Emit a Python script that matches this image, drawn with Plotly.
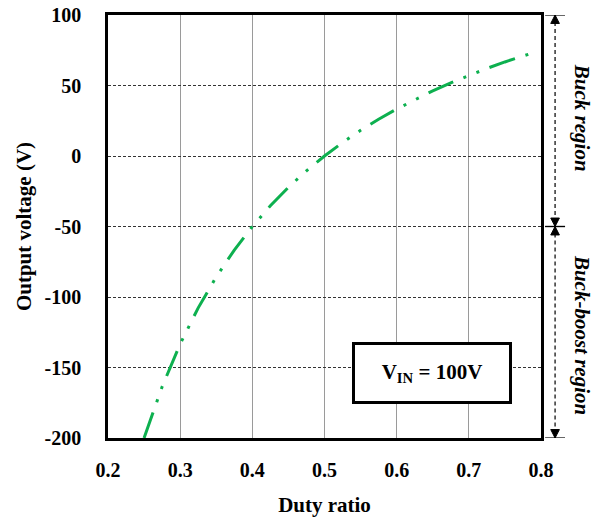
import plotly.graph_objects as go

duty = [0.25, 0.275, 0.3, 0.325, 0.35, 0.375, 0.4, 0.425, 0.45, 0.475, 0.5,
        0.525, 0.55, 0.575, 0.6, 0.625, 0.65, 0.675, 0.7, 0.725, 0.75, 0.775, 0.795]
vout = [-200, -163.6, -133.3, -107.7, -85.7, -66.7, -50, -35.3, -22.2, -10.5, 0,
        9.5, 18.2, 26.1, 33.3, 40, 46.2, 51.9, 57.1, 62.1, 66.7, 71, 74.2]
x_ticks = [0.2, 0.3, 0.4, 0.5, 0.6, 0.7, 0.8]
y_ticks = [-200, -150, -100, -50, 0, 50, 100]

FONT = "Liberation Serif, Times New Roman, serif"

fig = go.Figure()
fig.add_trace(go.Scatter(
    x=duty, y=vout, mode="lines",
    line=dict(color="#0db04f", width=3, dash="27px,11px,3px,11px,3px,11px"),
    showlegend=False, hoverinfo="skip"))

fig.update_layout(
    width=600, height=519,
    margin=dict(l=108, r=59, t=15, b=81, autoexpand=False),
    paper_bgcolor="white", plot_bgcolor="white",
    font=dict(family=FONT, size=20, color="black"),
    xaxis=dict(range=[0.2, 0.8], tickvals=x_ticks, ticktext=[f"<b>{v:.1f}</b>" for v in x_ticks],
               showgrid=True, gridcolor="#9a9a9a", gridwidth=1,
               showline=True, linecolor="black", linewidth=2.5, mirror=True,
               ticks="", zeroline=False, ticklabelstandoff=12, automargin=False,
               title=dict(text="<b>Duty ratio</b>", font=dict(size=21), standoff=18)),
    yaxis=dict(range=[-200, 100], tickvals=y_ticks, ticktext=[f"<b>{v}</b>" for v in y_ticks],
               showgrid=True, gridcolor="#333333", gridwidth=1, griddash="3px,2px",
               showline=True, linecolor="black", linewidth=2.5, mirror=True,
               ticks="", zeroline=False, ticklabelstandoff=20, automargin=False,
               title=dict(text="<b>Output voltage (V)</b>", font=dict(size=21), standoff=8)),
)

# V_IN box
fig.add_annotation(x=0.6494, y=-154, xref="x", yref="y",
                   text="<b>V<sub>IN</sub> = 100V</b>", showarrow=False,
                   font=dict(size=21, family=FONT, color="black"),
                   bordercolor="black", borderwidth=3, bgcolor="white",
                   width=152, height=54, borderpad=1)

# Region indicators on the right
xr = 1.0325
dx = 0.010   # half-width of arrowhead in paper units
dv = 6       # arrowhead length in data units (~8 px)
for (y0, y1) in [(100, -50), (-50, -200)]:
    fig.add_shape(type="line", xref="paper", yref="y", x0=xr, x1=xr, y0=y0, y1=y1,
                  line=dict(color="black", width=1.2, dash="4px,3px"))
    for yy in (y0, y1):
        fig.add_shape(type="line", xref="paper", yref="y", x0=xr - 0.023, x1=xr + 0.023,
                      y0=yy, y1=yy, line=dict(color="black", width=1.2))
    fig.add_shape(type="path", xref="paper", yref="y",
                  path=f"M {xr} {y0} L {xr - dx} {y0 - dv} L {xr + dx} {y0 - dv} Z",
                  fillcolor="black", line=dict(color="black", width=1))
    fig.add_shape(type="path", xref="paper", yref="y",
                  path=f"M {xr} {y1} L {xr - dx} {y1 + dv} L {xr + dx} {y1 + dv} Z",
                  fillcolor="black", line=dict(color="black", width=1))

fig.add_annotation(x=1.095, y=27, xref="paper", yref="y", xanchor="center", yanchor="middle",
                   text="<b><i>Buck region</i></b>",
                   textangle=90, showarrow=False, font=dict(size=21, family=FONT, color="black"))
fig.add_annotation(x=1.095, y=-127, xref="paper", yref="y", xanchor="center", yanchor="middle",
                   text="<b><i>Buck-boost region</i></b>",
                   textangle=90, showarrow=False, font=dict(size=21, family=FONT, color="black"))

fig.write_html("out.html")
